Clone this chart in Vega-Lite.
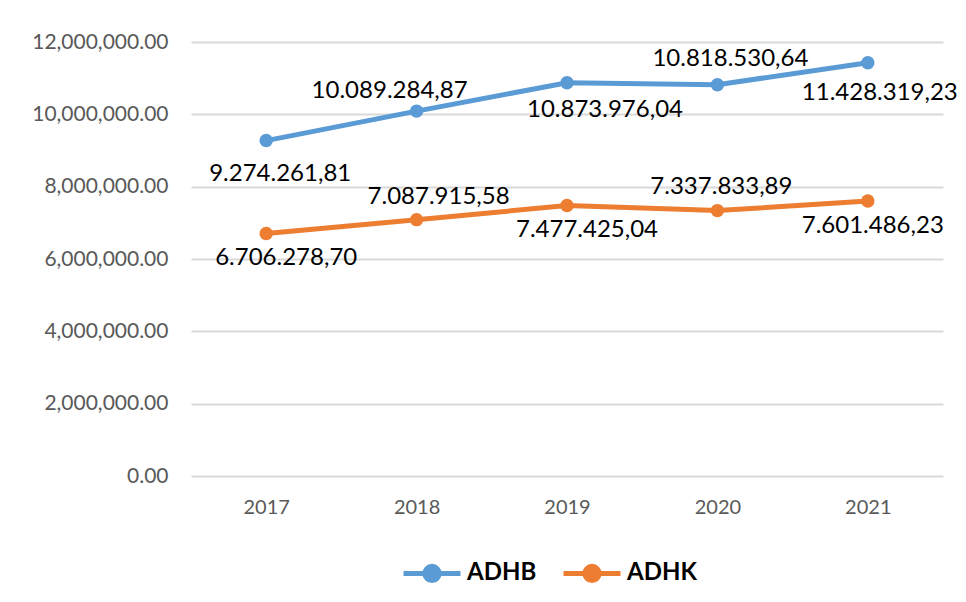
{
  "$schema": "https://vega.github.io/schema/vega-lite/v6.json",
  "width": 752,
  "height": 434,
  "autosize": {"type": "none"},
  "padding": {"left": 191, "top": 42, "right": 23, "bottom": 126},
  "background": "white",
  "config": {
    "locale": {"number": {"decimal": ",", "thousands": ".", "grouping": [3], "currency": ["", ""]}},
    "view": {"stroke": null},
    "font": "Lato"
  },
  "data": {
    "values": [
      {"year": "2017", "series": "ADHB", "value": 9274261.81},
      {"year": "2018", "series": "ADHB", "value": 10089284.87},
      {"year": "2019", "series": "ADHB", "value": 10873976.04},
      {"year": "2020", "series": "ADHB", "value": 10818530.64},
      {"year": "2021", "series": "ADHB", "value": 11428319.23},
      {"year": "2017", "series": "ADHK", "value": 6706278.70},
      {"year": "2018", "series": "ADHK", "value": 7087915.58},
      {"year": "2019", "series": "ADHK", "value": 7477425.04},
      {"year": "2020", "series": "ADHK", "value": 7337833.89},
      {"year": "2021", "series": "ADHK", "value": 7601486.23}
    ]
  },
  "encoding": {
    "x": {
      "field": "year", "type": "ordinal",
      "scale": {"type": "point", "padding": 0.5},
      "axis": {"title": null, "labelAngle": 0, "domain": false, "ticks": false, "labelPadding": 21, "labelFontSize": 20, "labelColor": "#595959", "labelFont": "Lato"}
    },
    "y": {
      "field": "value", "type": "quantitative",
      "scale": {"domain": [0, 12000000]},
      "axis": {"title": null, "values": [0, 2000000, 4000000, 6000000, 8000000, 10000000, 12000000], "format": ",.2f",
        "labelExpr": "replace(replace(replace(datum.label, /\\./g, '_'), /,/g, '.'), /_/g, ',')",
        "labelOverlap": false, "labelFlush": false,
        "domain": false, "ticks": false, "labelPadding": 23, "labelFontSize": 21, "labelColor": "#595959",
        "gridColor": "#D9D9D9", "gridWidth": 2}
    }
  },
  "layer": [
    {
      "mark": {"type": "line", "strokeWidth": 5, "point": {"filled": true, "size": 180}},
      "encoding": {
        "color": {
          "field": "series", "type": "nominal",
          "scale": {"domain": ["ADHB", "ADHK"], "range": ["#5B9BD5", "#ED7D31"]},
          "legend": {
            "title": null, "orient": "none", "direction": "horizontal", "legendX": 210, "legendY": 500,
            "symbolType": "M-1,0L-0.25,0M0.25,0L1,0M-0.25,0A0.25,0.25 0 1 1 0.25,0A0.25,0.25 0 1 1 -0.25,0Z",
            "symbolSize": 3249, "symbolStrokeWidth": 5,
            "labelFontSize": 24, "labelFontWeight": "bold", "labelColor": "#000000", "labelFont": "Lato",
            "labelOffset": 4, "columnPadding": 16,
            "encode": {"symbols": {"update": {"fill": {"scale": "color", "field": "value"}, "stroke": {"scale": "color", "field": "value"}, "opacity": {"value": 1}}}}
          }
        }
      }
    },
    {"transform": [{"filter": "datum.series=='ADHB' && datum.year=='2017'"}], "mark": {"type": "text", "fontSize": 24, "baseline": "middle", "dx": 14, "dy": 33, "color": "#000000"}, "encoding": {"text": {"field": "value", "type": "quantitative", "format": ",.2f"}}},
    {"transform": [{"filter": "datum.series=='ADHB' && datum.year=='2018'"}], "mark": {"type": "text", "fontSize": 24, "baseline": "middle", "dx": -27, "dy": -20, "color": "#000000"}, "encoding": {"text": {"field": "value", "type": "quantitative", "format": ",.2f"}}},
    {"transform": [{"filter": "datum.series=='ADHB' && datum.year=='2019'"}], "mark": {"type": "text", "fontSize": 24, "baseline": "middle", "dx": 38, "dy": 27, "color": "#000000"}, "encoding": {"text": {"field": "value", "type": "quantitative", "format": ",.2f"}}},
    {"transform": [{"filter": "datum.series=='ADHB' && datum.year=='2020'"}], "mark": {"type": "text", "fontSize": 24, "baseline": "middle", "dx": 13, "dy": -26, "color": "#000000"}, "encoding": {"text": {"field": "value", "type": "quantitative", "format": ",.2f"}}},
    {"transform": [{"filter": "datum.series=='ADHB' && datum.year=='2021'"}], "mark": {"type": "text", "fontSize": 24, "baseline": "middle", "dx": 12, "dy": 30, "color": "#000000"}, "encoding": {"text": {"field": "value", "type": "quantitative", "format": ",.2f"}}},
    {"transform": [{"filter": "datum.series=='ADHK' && datum.year=='2017'"}], "mark": {"type": "text", "fontSize": 24, "baseline": "middle", "dx": 20, "dy": 25, "color": "#000000"}, "encoding": {"text": {"field": "value", "type": "quantitative", "format": ",.2f"}}},
    {"transform": [{"filter": "datum.series=='ADHK' && datum.year=='2018'"}], "mark": {"type": "text", "fontSize": 24, "baseline": "middle", "dx": 22, "dy": -23, "color": "#000000"}, "encoding": {"text": {"field": "value", "type": "quantitative", "format": ",.2f"}}},
    {"transform": [{"filter": "datum.series=='ADHK' && datum.year=='2019'"}], "mark": {"type": "text", "fontSize": 24, "baseline": "middle", "dx": 20, "dy": 24, "color": "#000000"}, "encoding": {"text": {"field": "value", "type": "quantitative", "format": ",.2f"}}},
    {"transform": [{"filter": "datum.series=='ADHK' && datum.year=='2020'"}], "mark": {"type": "text", "fontSize": 24, "baseline": "middle", "dx": 4, "dy": -24, "color": "#000000"}, "encoding": {"text": {"field": "value", "type": "quantitative", "format": ",.2f"}}},
    {"transform": [{"filter": "datum.series=='ADHK' && datum.year=='2021'"}], "mark": {"type": "text", "fontSize": 24, "baseline": "middle", "dx": 5, "dy": 25, "color": "#000000"}, "encoding": {"text": {"field": "value", "type": "quantitative", "format": ",.2f"}}}
  ]
}
